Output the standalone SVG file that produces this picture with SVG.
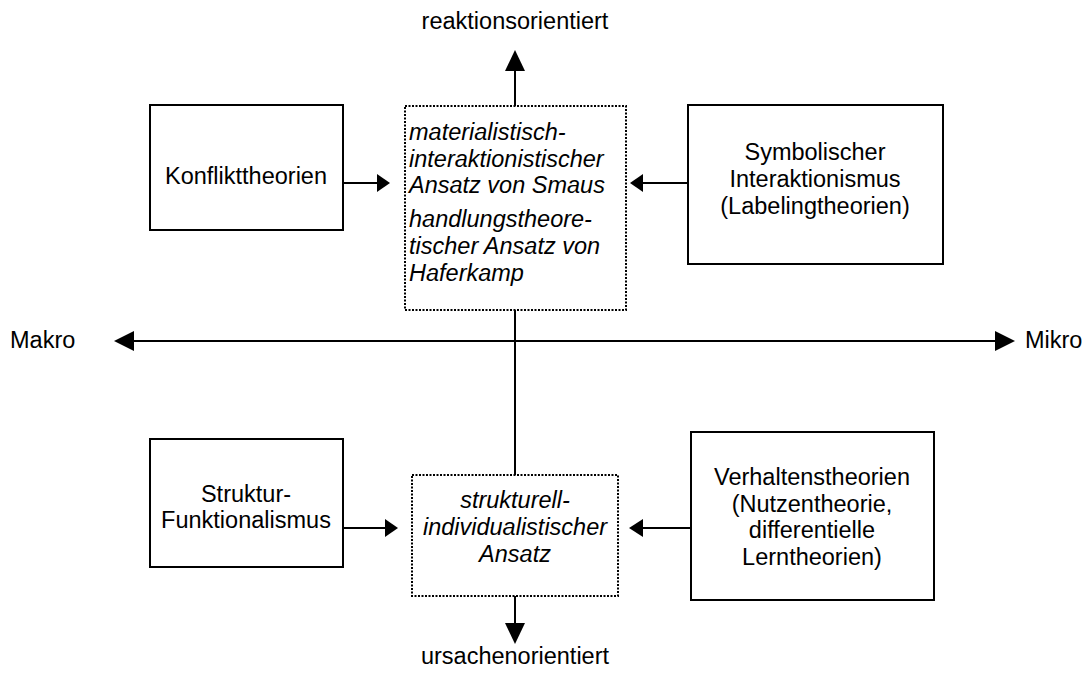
<svg xmlns="http://www.w3.org/2000/svg" width="1085" height="673" viewBox="0 0 1085 673">
  <style>
    text { font-family: "Liberation Sans", Arial, sans-serif; font-size: 23.5px; fill: #000; }
    .mid { text-anchor: middle; }
    .it { font-style: italic; }
    .box { fill: #fff; stroke: #000; stroke-width: 2; }
    .dot { fill: #fff; stroke: #000; stroke-width: 2; stroke-dasharray: 2 1.5; }
    .line { fill: none; stroke: #000; stroke-width: 2; }
    .head { fill: #000; stroke: none; }
  </style>

  <!-- connectors and axes -->
  <g id="connectors">
    <!-- vertical axis: reaktionsorientiert / ursachenorientiert -->
    <line class="line" x1="515" y1="70" x2="515" y2="106"/>
    <polygon class="head" points="515,50 505,71 525,71"/>
    <line class="line" x1="515" y1="310" x2="515" y2="475"/>
    <line class="line" x1="515" y1="596" x2="515" y2="624"/>
    <polygon class="head" points="515,644 505,623 525,623"/>
    <!-- horizontal axis: Makro / Mikro -->
    <line class="line" x1="133" y1="341" x2="996" y2="341"/>
    <polygon class="head" points="114,341 134,331 134,351"/>
    <polygon class="head" points="1015,341 995,331 995,351"/>
    <!-- theory boxes into the approaches -->
    <line class="line" x1="343" y1="183" x2="378" y2="183"/>
    <polygon class="head" points="390,183 377,174 377,192"/>
    <line class="line" x1="642" y1="183" x2="688" y2="183"/>
    <polygon class="head" points="630,183 643,174 643,192"/>
    <line class="line" x1="343" y1="528" x2="386" y2="528"/>
    <polygon class="head" points="398,528 385,519 385,537"/>
    <line class="line" x1="642" y1="528" x2="691" y2="528"/>
    <polygon class="head" points="629,528 643,519 643,537"/>
  </g>

  <!-- axis labels -->
  <text class="mid" x="515" y="29">reaktionsorientiert</text>
  <text class="mid" x="515" y="664">ursachenorientiert</text>
  <text x="10" y="348">Makro</text>
  <text x="1025" y="348">Mikro</text>

  <g id="konflikttheorien">
    <rect class="box" x="150" y="105" width="193" height="125"/>
    <text class="mid" x="246" y="184">Konflikttheorien</text>
  </g>

  <g id="symbolischer-interaktionismus">
    <rect class="box" x="688" y="105" width="255" height="159"/>
    <text class="mid" x="815" y="160">Symbolischer</text>
    <text class="mid" x="815" y="187">Interaktionismus</text>
    <text class="mid" x="815" y="214">(Labelingtheorien)</text>
  </g>

  <g id="reaktionsorientierte-ansaetze">
    <rect class="dot" x="405" y="106" width="221" height="204"/>
    <text class="it" x="409" y="140">materialistisch-</text>
    <text class="it" x="409" y="167">interaktionistischer</text>
    <text class="it" x="409" y="193">Ansatz von Smaus</text>
    <text class="it" x="409" y="227">handlungstheore-</text>
    <text class="it" x="409" y="254">tischer Ansatz von</text>
    <text class="it" x="409" y="281">Haferkamp</text>
  </g>

  <g id="struktur-funktionalismus">
    <rect class="box" x="150" y="439" width="193" height="128"/>
    <text class="mid" x="246" y="502">Struktur-</text>
    <text class="mid" x="246" y="528">Funktionalismus</text>
  </g>

  <g id="strukturell-individualistischer-ansatz">
    <rect class="dot" x="412" y="475" width="206" height="121"/>
    <text class="mid it" x="515" y="508">strukturell-</text>
    <text class="mid it" x="515" y="535">individualistischer</text>
    <text class="mid it" x="515" y="562">Ansatz</text>
  </g>

  <g id="verhaltenstheorien">
    <rect class="box" x="691" y="432" width="243" height="168"/>
    <text class="mid" x="812" y="485">Verhaltenstheorien</text>
    <text class="mid" x="812" y="512">(Nutzentheorie,</text>
    <text class="mid" x="812" y="538">differentielle</text>
    <text class="mid" x="812" y="565">Lerntheorien)</text>
  </g>
</svg>
